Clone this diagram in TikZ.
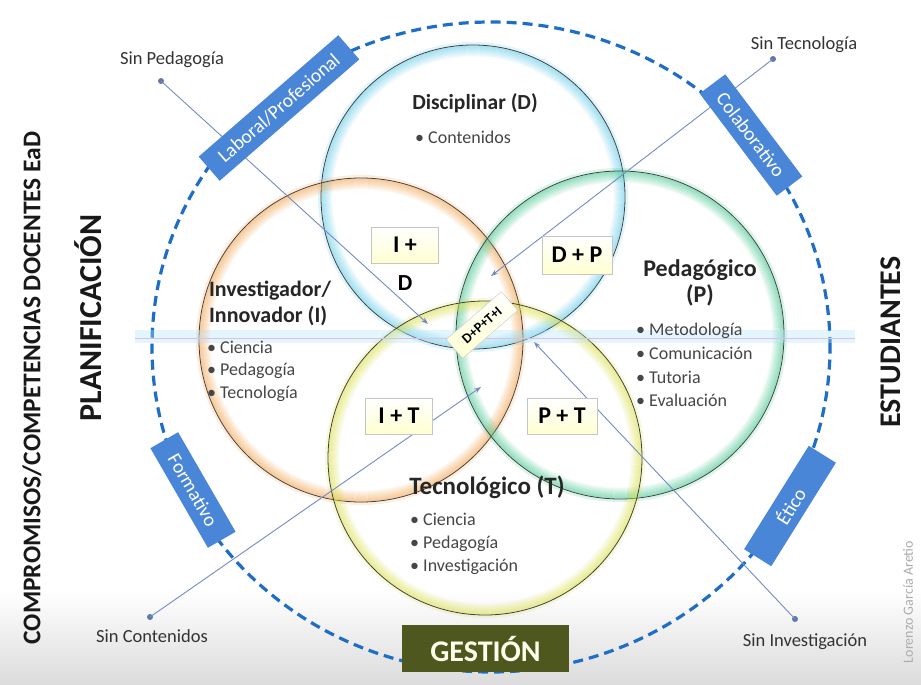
\documentclass[tikz,border=0pt]{standalone}
\usepackage{fontspec}
\setmainfont{Carlito}
\usetikzlibrary{arrows.meta}

\definecolor{dashblue}{RGB}{30,110,200}
\definecolor{boxblue}{RGB}{74,134,216}
\definecolor{oliveg}{RGB}{78,88,30}
\definecolor{linkblue}{RGB}{115,140,195}
\definecolor{glowD}{RGB}{100,205,235}
\definecolor{glowI}{RGB}{245,165,80}
\definecolor{glowP}{RGB}{70,200,145}
\definecolor{glowT}{RGB}{220,225,70}
\definecolor{textgray}{RGB}{70,70,70}

\newcommand\glowring[3]{%
  \foreach \i [evaluate=\i as \op using {0.55-\i*0.045}, evaluate=\i as \rr using {#2-\i*1.0}] in {1,...,11}{
    \draw[#3, line width=1.2pt, opacity=\op] (#1) circle [radius=\rr pt];
  }
  \draw[#3, line width=3pt, opacity=0.2] (#1) circle [radius=#2pt+1.5pt];
  \draw[black!75, line width=0.8pt] (#1) circle [radius=#2pt];
}

\tikzset{
  tagbox/.style={fill=boxblue, text=white, minimum height=32pt, inner sep=0pt,
    font=\fontsize{19.5}{19.5}\selectfont},
  combo/.style={draw=gray!45, top color=white, bottom color=yellow!18,
    font=\bfseries\fontsize{24}{24}\selectfont, minimum width=67pt, minimum height=36pt, inner sep=0pt},
  vtitle/.style={font=\bfseries\fontsize{22}{26}\selectfont, text=black!85},
  bul/.style={font=\fontsize{18}{18}\selectfont, text=textgray, anchor=base west, inner sep=0pt},
  sinlabel/.style={font=\fontsize{18.5}{18.5}\selectfont, text=black!80},
  link/.style={draw=linkblue, line width=0.9pt, -{Stealth[length=7pt,width=5pt]}},
  dotmark/.style={circle, fill=linkblue!85!black, inner sep=0pt, minimum size=6pt},
}

\begin{document}
\begin{tikzpicture}[x=1pt,y=-1pt]
\useasboundingbox (0,0) rectangle (921,685);
% background
\fill[white] (0,0) rectangle (921,685);
\shade[top color=white, bottom color=gray!28] (0,590) rectangle (921,685);

% outer dashed ellipse
\draw[dashblue, line width=3.2pt, dash pattern=on 10pt off 6pt] (491,347) ellipse [x radius=339pt, y radius=325pt];

% circles
\coordinate (cD) at (473,197);
\coordinate (cI) at (361,340);
\coordinate (cP) at (620,335);
\coordinate (cT) at (485,458);
\glowring{cD}{152}{glowD}
\glowring{cI}{162}{glowI}
\glowring{cP}{164}{glowP}
\glowring{cT}{157}{glowT}

% horizontal band
\fill[cyan!30, opacity=0.35] (135,330) rectangle (855,343);
\draw[violet!25, line width=0.6pt] (135,338) -- (855,338);

% links
\node[sinlabel] (lSP) at (172,60) {Sin Pedagogía};
\node[sinlabel] (lST) at (804,45) {Sin Tecnología};
\node[sinlabel] (lSC) at (152,636) {Sin Contenidos};
\node[sinlabel] (lSI) at (805,642) {Sin Investigación};
\node[dotmark] (dSP) at (161,81) {};
\node[dotmark] (dST) at (773,59) {};
\node[dotmark] (dSC) at (150,617) {};
\node[dotmark] (dSI) at (795,619) {};
\coordinate (aSP) at (428,324);
\coordinate (aST) at (491,276);
\coordinate (aSC) at (481,387);
\coordinate (aSI) at (534,342);
\draw[link] (dSP.center) -- (aSP);
\draw[link] (dST.center) -- (aST);
\draw[link] (dSC.center) -- (aSC);
\draw[link] (dSI.center) -- (aSI);

% tag boxes on the ellipse
\node[tagbox, minimum width=185pt, rotate=41] (tLab) at (279,108) {Laboral/Profesional};
\node[tagbox, minimum width=128pt, rotate=-53] (tCol) at (751,135) {Colaborativo};
\node[tagbox, minimum width=115pt, rotate=-60] (tFor) at (193,490) {Formativo};
\node[tagbox, minimum width=122pt, rotate=58] (tEti) at (790,506) {Ético};
\node[fill=oliveg, text=white!92!yellow, minimum width=167pt, minimum height=47pt, inner sep=0pt,
  font=\bfseries\fontsize{30}{30}\selectfont] (gest) at (485.5,648.5) {GESTIÓN};

% titles
\node[vtitle, font=\bfseries\fontsize{21.5}{26}\selectfont] (tD) at (475,103) {Disciplinar (D)};
\node[vtitle, align=left] (tI) at (270,303) {Investigador/\\Innovador (I)};
\node[vtitle, align=center, font=\bfseries\fontsize{24}{26}\selectfont] (tP) at (700,283) {Pedagógico\\(P)};
\node[vtitle, font=\bfseries\fontsize{25}{26}\selectfont] (tT) at (487,487) {Tecnológico (T)};

% bullets
\node[bul] (bD1) at (415,143) {\textbullet\ Contenidos};
\node[bul] (bI1) at (207,353) {\textbullet\ Ciencia};
\node[bul] (bI2) at (207,375) {\textbullet\ Pedagogía};
\node[bul] (bI3) at (207,398) {\textbullet\ Tecnología};
\node[bul] (bP1) at (636,335) {\textbullet\ Metodología};
\node[bul] (bP2) at (636,359) {\textbullet\ Comunicación};
\node[bul] (bP3) at (636,383) {\textbullet\ Tutoria};
\node[bul] (bP4) at (636,406) {\textbullet\ Evaluación};
\node[bul] (bT1) at (410,525) {\textbullet\ Ciencia};
\node[bul] (bT2) at (410,548) {\textbullet\ Pedagogía};
\node[bul] (bT3) at (410,571) {\textbullet\ Investigación};

% intersection boxes
\node[combo] (cID) at (405,245) {I +};
\node[font=\bfseries\fontsize{23}{23}\selectfont] (cIDd) at (405,283) {D};
\node[combo, minimum width=70pt, minimum height=38pt] (cDP) at (577,255) {D + P};
\node[combo] (cIT) at (399,416) {I + T};
\node[combo, minimum width=70pt] (cPT) at (562,416) {P + T};
\node[combo, rotate=41, minimum width=73pt, minimum height=25pt,
  font=\bfseries\fontsize{14}{14}\selectfont] (cAll) at (482,325) {D+P+T+I};

% side texts
\node[rotate=90, font=\bfseries\fontsize{25.5}{25.5}\selectfont, text=black!90] (comp) at (32,388) {COMPROMISOS/COMPETENCIAS DOCENTES EaD};
\node[rotate=90, font=\bfseries\fontsize{32}{32}\selectfont, text=black!90] (plan) at (88,318) {PLANIFICACIÓN};
\node[rotate=90, font=\bfseries\fontsize{30}{30}\selectfont, text=black!90] (est) at (891,342) {ESTUDIANTES};
\node[rotate=90, font=\fontsize{14}{14}\selectfont, text=gray!65] (auth) at (908,602) {Lorenzo García Aretio};
\end{tikzpicture}
\end{document}
